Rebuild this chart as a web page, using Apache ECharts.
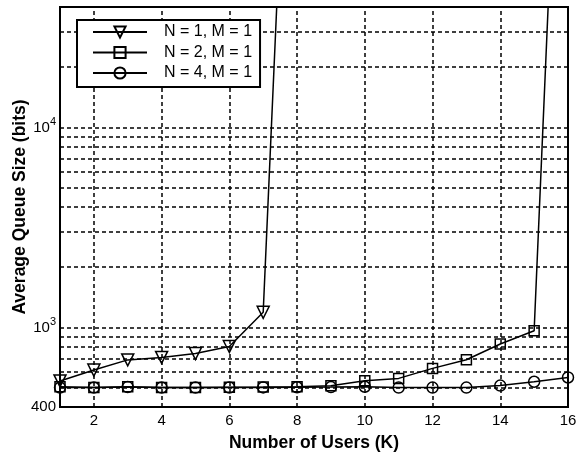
<!DOCTYPE html>
<html><head><meta charset="utf-8">
<script src="https://cdn.jsdelivr.net/npm/echarts@6/dist/echarts.min.js"></script>
<style>html,body{margin:0;padding:0;background:#fff}#c{width:577px;height:453px}</style>
</head><body><div id="c"></div>
<script>
var users = [1,2,3,4,5,6,7,8,9,10,11,12,13,14,15,16];
var seriesNames = ['N = 1, M = 1','N = 2, M = 1','N = 4, M = 1'];
var n1 = [540, 612, 688, 708, 740, 803, 1190, 8000000];
var n2 = [505, 500, 505, 500, 500, 502, 503, 505, 511, 541, 556, 624, 689, 826, 963, 8000000];
var n4 = [500, 500, 503, 500, 500, 500, 501, 502, 503, 505, 500, 500, 500, 512, 535, 562];
var xTickLabels = [2,4,6,8,10,12,14,16];
var xGridValues = [2,4,6,8,10,12,14];
var yGridValues = [500,600,700,800,900,1000,2000,3000,4000,5000,6000,7000,8000,9000,10000,20000,30000];
var yTickLabels = {400:'400', 1000:'10{sup|3}', 10000:'10{sup|4}'};

var FONT = "'Liberation Sans', Arial, Helvetica, sans-serif";
function pairs(arr){ return arr.map(function(v,i){ return [users[i], v]; }); }
var symbols = ['triangle','rect','circle'];
var rot = [180,0,0];
var sizes = [12,10,11];
var datas = [n1,n2,n4];

var series = datas.map(function(d,i){
  return {
    name: seriesNames[i], type:'line', data: pairs(d), z: 3,
    symbol: symbols[i], symbolRotate: rot[i], symbolSize: sizes[i],
    lineStyle:{color:'#000', width:1.5},
    itemStyle:{color:'rgba(0,0,0,0)', borderColor:'#000', borderWidth:1.5},
    emphasis:{disabled:true}, clip:true
  };
});
var gridLine = {type:[4,3], color:'#000', width:1.5};
series.push({
  type:'line', data:[], silent:true, z:1,
  markLine:{
    silent:true, symbol:['none','none'], z:1, animation:false,
    label:{show:false}, lineStyle:gridLine, emphasis:{disabled:true},
    data: yGridValues.map(function(v){return {yAxis:v};}).concat(xGridValues.map(function(v){return {xAxis:v};}))
  }
});

var chart = echarts.init(document.getElementById('c'), null, {renderer:'canvas'});
chart.setOption({
  animation:false,
  backgroundColor:'#fff',
  textStyle:{fontFamily:FONT},
  grid:{left:60, right:9, top:7, bottom:46, containLabel:false, outerBoundsMode:'none',
        show:true, borderColor:'#000', borderWidth:2, backgroundColor:'transparent'},
  legend:{
    data: seriesNames, orient:'vertical', left:77, top:20,
    backgroundColor:'#fff', borderColor:'#000', borderWidth:2,
    padding:[4,8,6,15], itemWidth:54, itemHeight:14, itemGap:4.5,
    textStyle:{fontFamily:FONT, fontSize:16, color:'#000', padding:[0,0,0,12]}
  },
  xAxis:{
    type:'value', min:1, max:16, interval:1,
    name:'Number of Users (K)', nameLocation:'middle', nameGap:27, nameMoveOverlap:false,
    nameTextStyle:{fontFamily:FONT, fontSize:17.5, fontWeight:'bold', color:'#000'},
    axisLine:{lineStyle:{color:'#000', width:2}},
    axisTick:{show:false}, splitLine:{show:false},
    axisLabel:{fontFamily:FONT, fontSize:15, color:'#000', margin:6,
      formatter:function(v){ return xTickLabels.indexOf(v) >= 0 ? String(v) : ''; }}
  },
  yAxis:{
    type:'log', logBase:10, min:400, max:40000,
    name:'Average Queue Size (bits)', nameLocation:'middle', nameGap:31, nameMoveOverlap:false,
    nameTextStyle:{fontFamily:FONT, fontSize:17.5, fontWeight:'bold', color:'#000'},
    axisLine:{lineStyle:{color:'#000', width:2}},
    axisTick:{show:false}, splitLine:{show:false},
    axisLabel:{fontFamily:FONT, fontSize:15, color:'#000', margin:4,
      formatter:function(v){ var k = Math.round(v); return yTickLabels[k] || ''; },
      rich:{sup:{fontFamily:FONT, fontSize:11, color:'#000', padding:[0,0,10,0]}}
    }
  },
  series: series
});
</script></body></html>
